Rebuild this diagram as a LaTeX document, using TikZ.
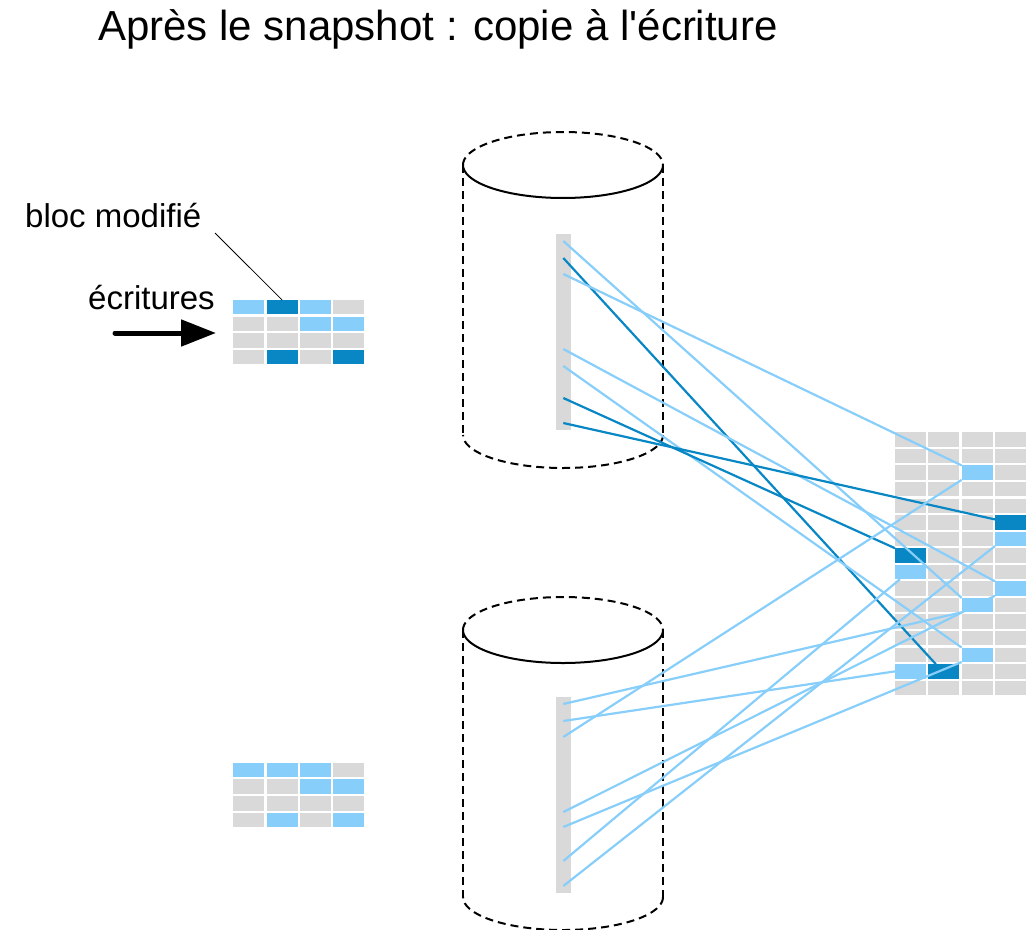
\documentclass[tikz,border=0pt]{standalone}
\usepackage{fontspec}
\newfontfamily\labelfont{Liberation Sans}
\usetikzlibrary{arrows.meta,calc}
\definecolor{cellgray}{RGB}{217,217,217}
\definecolor{lightblk}{RGB}{136,206,250}
\definecolor{darkblk}{RGB}{8,135,196}

\begin{document}
\begin{tikzpicture}[x=1pt,y=-1pt,
  cell/.style={draw=none, fill=cellgray, minimum width=31pt, minimum height=14.4pt, inner sep=0pt, outer sep=0pt},
  lightlink/.style={draw=lightblk, line width=2.2pt},
  darklink/.style={draw=darkblk, line width=2.2pt},
  cylsolid/.style={line width=2pt},
  cyldash/.style={line width=2pt, dash pattern=on 8pt off 5pt},
  barbox/.style={fill=cellgray, draw=none, minimum width=15pt, minimum height=196pt, inner sep=0pt, outer sep=0pt},
  txt/.style={font=\labelfont\fontsize{33}{40}\selectfont, inner sep=0pt, anchor=base west}]
\useasboundingbox (0,0) rectangle (1030,929);

% title
\node[txt, font=\labelfont\fontsize{42}{50}\selectfont] (title) at (98,40) {Après le snapshot : copie à l'écriture};

% two cylinders (volume, snapshot)
\foreach \ty/\by in {165/435, 630/897}{
  \draw[cyldash] plot[domain=180:360, samples=60, smooth] ({563+100*cos(\x)},{\ty+33*sin(\x)});
  \draw[cylsolid] plot[domain=0:180, samples=60, smooth] ({563+100*cos(\x)},{\ty+33*sin(\x)});
  \draw[cyldash] (463,\ty) -- (463,\by);
  \draw[cyldash] (663,\ty) -- (663,\by);
  \draw[cyldash] plot[domain=0:180, samples=60, smooth] ({563+100*cos(\x)},{\by+33*sin(\x)});
}

% block lists inside the cylinders
\node[barbox] (tb) at (563.3,332) {};
\node[barbox] (bb) at (563.3,795) {};

% incoming blocks (top) and original blocks (bottom)
\foreach \r in {0,...,3}{
  \foreach \c in {0,...,3}{
    \node[cell] (A-\r-\c) at ({248.8+33.33*\c},{307.2+16.67*\r}) {};
    \node[cell] (B-\r-\c) at ({248.8+33.33*\c},{770+16.67*\r}) {};
  }
}
\foreach \r/\c in {0/0,0/2,1/2,1/3}
  \fill[lightblk] (A-\r-\c.south west) rectangle (A-\r-\c.north east);
\foreach \r/\c in {0/1,3/1,3/3}
  \fill[darkblk] (A-\r-\c.south west) rectangle (A-\r-\c.north east);
\foreach \r/\c in {0/0,0/1,0/2,1/2,1/3,3/1,3/3}
  \fill[lightblk] (B-\r-\c.south west) rectangle (B-\r-\c.north east);

% storage pool
\foreach \r in {0,...,15}{
  \foreach \c in {0,...,3}{
    \node[cell] (R-\r-\c) at ({910.5+33.33*\c},{439.5+16.56*\r}) {};
  }
}
\foreach \r/\c in {2/2,6/3,8/0,9/3,10/2,13/2,14/0}
  \fill[lightblk] (R-\r-\c.south west) rectangle (R-\r-\c.north east);
\foreach \r/\c in {5/3,7/0,14/1}
  \fill[darkblk] (R-\r-\c.south west) rectangle (R-\r-\c.north east);

% labels, leader and write arrow
\node[txt] (bm) at (25,227) {bloc modifié};
\node[txt] (ecr) at (88,309) {écritures};
\coordinate (lead) at (215,233);
\draw[line width=0.8pt] (lead) -- (A-0-1.north);
\coordinate (a0) at (115,333);
\coordinate (a1) at (216,333);
\draw[line width=5pt, line cap=round, -{Triangle[length=35pt,width=26pt]}] (a0) -- (a1);

% pointers of the volume
\coordinate (t1) at (563.3,241);
\coordinate (t2) at (563.3,258);
\coordinate (t3) at (563.3,274);
\coordinate (t4) at (563.3,349);
\coordinate (t5) at (563.3,366);
\coordinate (t6) at (563.3,398);
\coordinate (t7) at (563.3,423);
\draw[lightlink] (t1) -- (R-10-2.north west);
\draw[darklink] (t2) -- ([xshift=-8pt]R-14-1.north);
\draw[lightlink] (t3) -- (R-2-2.north west);
\draw[lightlink] (t4) -- (R-9-3.north west);
\draw[lightlink] (t5) -- (R-13-2.north west);
\draw[darklink] (t6) -- (R-7-0.north west);
\draw[darklink] (t7) -- ($(R-5-3.north west)!0.3!(R-5-3.south west)$);

% pointers of the snapshot
\coordinate (b1) at (563.3,704);
\coordinate (b2) at (563.3,721);
\coordinate (b3) at (563.3,737);
\coordinate (b4) at (563.3,812);
\coordinate (b5) at (563.3,827);
\coordinate (b6) at (563.3,861);
\coordinate (b7) at (563.3,886);
\draw[lightlink] (b1) -- (R-10-2.south west);
\draw[lightlink] (b2) -- (R-14-0.west);
\draw[lightlink] (b3) -- (R-2-2.south west);
\draw[lightlink] (b4) -- (R-9-3.south west);
\draw[lightlink] (b5) -- (R-13-2.south west);
\draw[lightlink] (b6) -- ([xshift=5pt]R-8-0.south west);
\draw[lightlink] (b7) -- (R-6-3.south west);
\end{tikzpicture}
\end{document}
